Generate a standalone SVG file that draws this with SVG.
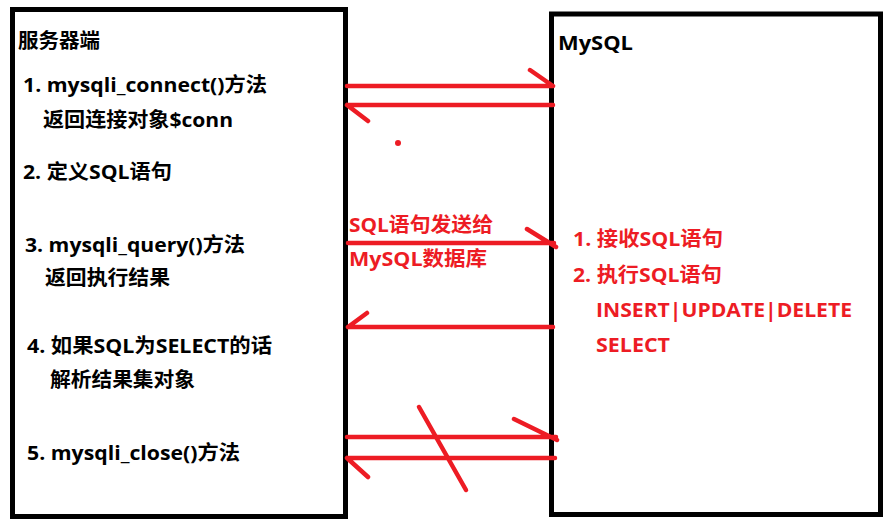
<svg xmlns="http://www.w3.org/2000/svg" width="892" height="525" viewBox="0 0 892 525">
<style>
.box{fill:#fff;stroke:#000;stroke-width:5}
.t{font-family:"Open Sans","Noto Sans CJK SC",sans-serif;font-weight:bold;font-size:20px;fill:#000}
.r{fill:#ed1c24}
.ln{stroke:#ed1c24;stroke-width:4.5;stroke-linecap:round;fill:none}
</style>
<rect width="892" height="525" fill="#fff"/>
<g id="server">
<rect class="box" x="12.5" y="9.5" width="333" height="507"/>
<text class="t" x="18" y="48" textLength="82" lengthAdjust="spacingAndGlyphs">服务器端</text>
<text class="t" x="23" y="92" textLength="244" lengthAdjust="spacingAndGlyphs">1. mysqli_connect()方法</text>
<text class="t" x="43" y="127" textLength="190" lengthAdjust="spacingAndGlyphs">返回连接对象$conn</text>
<text class="t" x="23" y="179" textLength="149" lengthAdjust="spacingAndGlyphs">2. 定义SQL语句</text>
<text class="t" x="25" y="252" textLength="220" lengthAdjust="spacingAndGlyphs">3. mysqli_query()方法</text>
<text class="t" x="45" y="285" textLength="125" lengthAdjust="spacingAndGlyphs">返回执行结果</text>
<text class="t" x="27" y="353" textLength="245" lengthAdjust="spacingAndGlyphs">4. 如果SQL为SELECT的话</text>
<text class="t" x="50" y="387" textLength="145" lengthAdjust="spacingAndGlyphs">解析结果集对象</text>
<text class="t" x="27" y="460" textLength="213" lengthAdjust="spacingAndGlyphs">5. mysqli_close()方法</text>
</g>
<g id="mysql">
<rect class="box" x="551.5" y="14" width="329" height="500.5"/>
<text class="t" x="558" y="50" textLength="75" lengthAdjust="spacingAndGlyphs">MySQL</text>
<text class="t r" x="573" y="246" textLength="150" lengthAdjust="spacingAndGlyphs">1. 接收SQL语句</text>
<text class="t r" x="573" y="282" textLength="149" lengthAdjust="spacingAndGlyphs">2. 执行SQL语句</text>
<text class="t r" x="596" y="317" textLength="256" lengthAdjust="spacingAndGlyphs">INSERT|UPDATE|DELETE</text>
<text class="t r" x="596" y="352" textLength="74" lengthAdjust="spacingAndGlyphs">SELECT</text>
</g>
<g id="connectors">
<path class="ln" d="M347 86H553M530 70L553 86"/>
<path class="ln" d="M553 105H347M347 105L368 121"/>
<circle cx="398" cy="143" r="3" fill="#ed1c24"/>
<path class="ln" d="M348 243H554M527 229L556 247"/>
<path class="ln" d="M553 327H348M348 327L367 313"/>
<path class="ln" d="M347 437H556M514 419L557 440"/>
<path class="ln" d="M555 458H347M347 458L368 477"/>
<path class="ln" d="M419 407L466 490"/>
</g>
<g id="label-send">
<text class="t r" x="349" y="232" textLength="144" lengthAdjust="spacingAndGlyphs">SQL语句发送给</text>
<text class="t r" x="349" y="266" textLength="138" lengthAdjust="spacingAndGlyphs">MySQL数据库</text>
</g>
</svg>
